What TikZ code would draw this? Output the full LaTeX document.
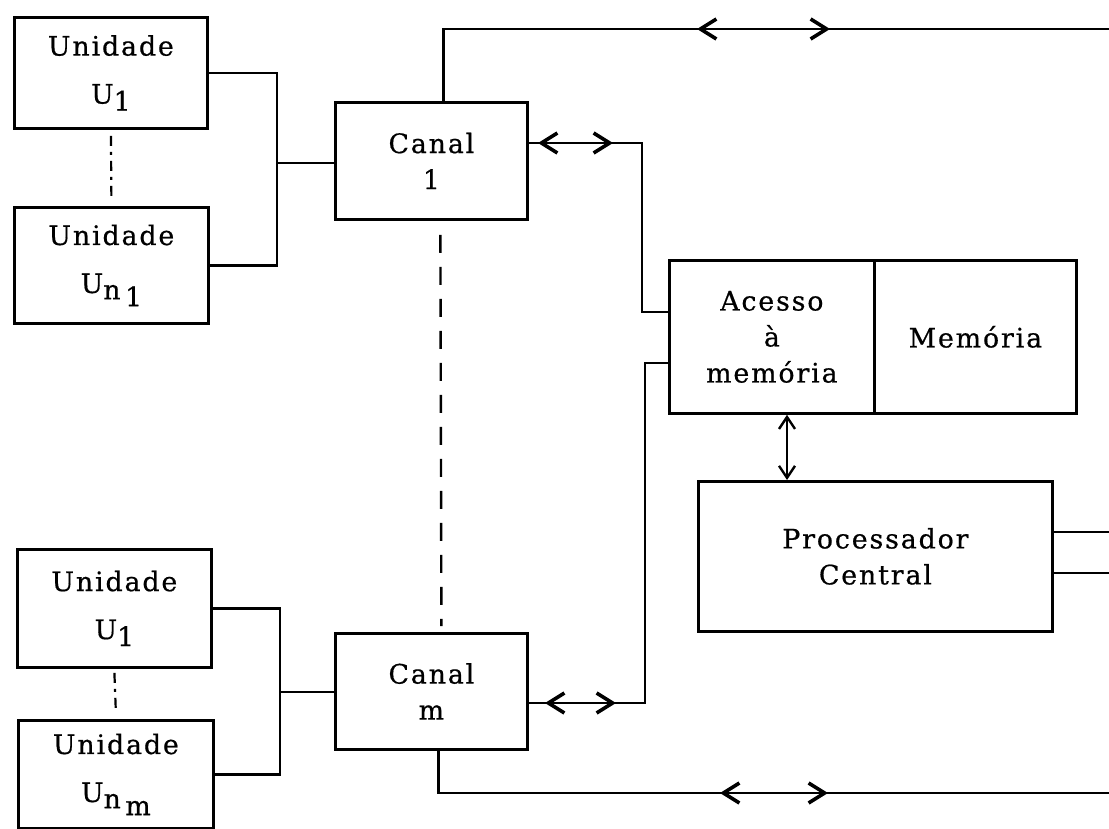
\documentclass[tikz,border=0pt]{standalone}
\usepackage{fontspec}
\setmainfont{DejaVu Serif}[LetterSpace=7,FakeBold=0.6]
\usetikzlibrary{arrows.meta,calc}
\newcommand\lowr[2][0.35ex]{\raisebox{-#1}{#2}}
\begin{document}
\begin{tikzpicture}[x=0.5pt,y=-0.5pt,
  box/.style={draw, line width=1.4pt, inner sep=0pt, align=center, anchor=north west,
              font=\fontsize{13.4pt}{18pt}\selectfont},
  wire/.style={line width=1.1pt},
  barb/.tip={Straight Barb[length=8pt,width=10pt,line width=1.8pt]},
  smallbarb/.tip={Straight Barb[length=6pt,width=8pt,line width=1.2pt]},
  barbs/.style={line width=1.1pt, barb-barb},
  dashline/.style={line width=1.2pt, dash pattern=on 9pt off 7pt},
  dotline/.style={line width=1.1pt, dash pattern=on 5pt off 3pt on 1.5pt off 3pt}]
\useasboundingbox (0,0) rectangle (1109,829);
\fill[white] (0,0) rectangle (1109,829);

% unit boxes, group 1
\node[box, minimum width=96.5pt, minimum height=55.5pt] (u11) at (13,16)
  {Unidade\\[6pt]U\lowr[0.5ex]{1}};
\node[box, minimum width=97pt, minimum height=58pt] (u1n) at (13,206)
  {Unidade\\[6pt]U\lowr[0.45ex]{n\,\lowr[0.5ex]{1}}};
% unit boxes, group m
\node[box, minimum width=97pt, minimum height=59pt] (u21) at (16,548)
  {Unidade\\[6pt]U\lowr[0.5ex]{1}};
\node[box, minimum width=97.5pt, minimum height=54pt] (u2n) at (17,719)
  {Unidade\\[6pt]U\lowr[0.45ex]{n\,\lowr[0.5ex]{m}}};

% channels
\node[box, minimum width=96pt, minimum height=58.5pt] (c1) at (334,101) {Canal\\1};
\node[box, minimum width=96pt, minimum height=58pt] (cm) at (334,632) {Canal\\m};

% memory access and memory
\node[box, minimum width=102.5pt, minimum height=76.5pt] (acc) at (668,259) {Acesso\\à\\memória};
\node[box, minimum width=101pt, minimum height=76.5pt] (mem) at (873,259) {Memória};

% central processor
\node[box, minimum width=177pt, minimum height=75pt] (proc) at (697,480) {Processador\\Central};

% coordinates
\coordinate (j1) at (277,163);
\coordinate (j2) at (280,692);
\coordinate (r1) at (1109,29);
\coordinate (r2) at (1109,793);
\coordinate (k1) at (642,143);
\coordinate (k2) at (645,703);
\coordinate (s1) at (668,312);
\coordinate (s2) at (668,363);
\coordinate (v)  at (787,0);
\coordinate (p1) at (1109,532);
\coordinate (p2) at (1109,573);
\coordinate (a1l) at (697,29);  \coordinate (a1r) at (830,29);
\coordinate (a2l) at (538,143); \coordinate (a2r) at (613,143);
\coordinate (a3l) at (545,703); \coordinate (a3r) at (616,703);
\coordinate (a4l) at (720,793); \coordinate (a4r) at (828,793);

% unit -> channel wiring
\draw[wire] (u11.east) -| (j1) |- (u1n.east);
\draw[wire] (j1) -- (j1 -| c1.west);
\draw[wire] (u21.east) -| (j2) |- (u2n.east);
\draw[wire] (j2) -- (j2 -| cm.west);

% ellipses between units and channels
\draw[dotline] ([yshift=-3pt]u11.south) -- ([yshift=4pt]u1n.north);
\draw[dotline] ([yshift=-2pt]u21.south) -- ([yshift=3pt]u2n.north);
\draw[dashline] ([xshift=4.5pt,yshift=-7pt]c1.south) -- ([xshift=5pt,yshift=3pt]cm.north);

% channel 1 buses
\draw[wire] ([xshift=6pt]c1.north) |- (r1);
\draw[barbs] (a1l) -- (a1r);
\draw[wire] (k1 -| c1.east) -- (k1) |- (s1);
\draw[barbs] (a2l) -- (a2r);

% channel m buses
\draw[wire] (s2) -| (k2) -- (k2 -| cm.east);
\draw[barbs] (a3l) -- (a3r);
\draw[wire] ([xshift=3.5pt]cm.south) |- (r2);
\draw[barbs] (a4l) -- (a4r);

% memory access <-> processor
\draw[wire, smallbarb-smallbarb] (acc.south -| v) -- (proc.north -| v);

% processor outputs
\draw[wire] (p1 -| proc.east) -- (p1);
\draw[wire] (p2 -| proc.east) -- (p2);
\end{tikzpicture}
\end{document}
